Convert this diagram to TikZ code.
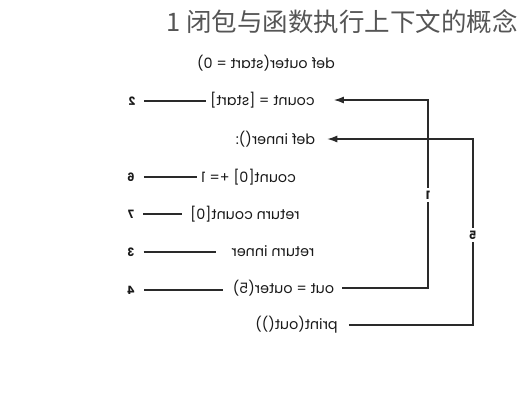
\documentclass[tikz,border=0pt]{standalone}
\usepackage{fontspec}
\setmainfont{Poppins}
\newfontfamily\cjk{Noto Sans CJK SC}
\newfontfamily\codefont{Poppins}
\usetikzlibrary{arrows.meta}
\definecolor{ink}{HTML}{2A2A2A}
\definecolor{txt}{HTML}{1A1A1A}
\newcommand{\mirror}[1]{\scalebox{-1}[1]{#1}}
\tikzset{
  code/.style={inner sep=0pt, text=txt, font=\codefont\fontsize{14.3}{16}\selectfont},
  num/.style={inner sep=0pt, text=txt, font=\codefont\bfseries\fontsize{11.5}{13}\selectfont},
  wire/.style={draw=ink, line width=1.3pt},
  arr/.style={wire, -{Latex[length=10pt,width=7pt]}},
  tag/.style={num, fill=white, inner ysep=3pt, inner xsep=1pt}
}
\begin{document}
\begin{tikzpicture}[x=1pt,y=-1pt]
\useasboundingbox (0,0) rectangle (518,400);
\node[anchor=east, text=ink!80, inner sep=0pt, font=\cjk\fontsize{25.5}{28}\selectfont] (title) at (518,22) {1\hspace{6pt}闭包与函数执行上下文的概念};

\node[code] (outer) at (266,63) {\mirror{def outer(start = 0)}};
\node[code] (count) at (262.5,100) {\mirror{count = [start]}};
\node[code] (inner) at (275.5,139) {\mirror{def inner():}};
\node[code] (inc) at (248.5,177) {\mirror{count[0] += 1}};
\node[code] (retc) at (245,214) {\mirror{return count[0]}};
\node[code] (reti) at (273,251) {\mirror{return inner}};
\node[code] (out) at (283.5,288) {\mirror{out = outer(5)}};
\node[code] (print) at (296.5,325) {\mirror{print(out())}};

\node[num] (n2) at (132,101) {\mirror{2}};
\node[num] (n6) at (131,177) {\mirror{6}};
\node[num] (n7) at (131,214) {\mirror{7}};
\node[num] (n3) at (131,252) {\mirror{3}};
\node[num] (n4) at (131,290) {\mirror{4}};

\draw[wire, shorten <=9pt, shorten >=4pt] (n2.east) -- (count.west |- n2.east);
\draw[wire, shorten <=9pt, shorten >=4pt] (n6.east) -- (inc.west |- n6.east);
\draw[wire, shorten <=9pt, shorten >=8pt] (n7.east) -- (retc.west |- n7.east);
\draw[wire, shorten <=9pt, shorten >=15pt] (n3.east) -- (reti.west |- n3.east);
\draw[wire, shorten <=9pt, shorten >=10pt] (n4.east) -- (out.west |- n4.east);

\coordinate (r1) at (428,0);
\coordinate (r5) at (473,0);
\draw[arr] ([xshift=8pt]out.east) -- (out.east -| r1) -- (count.east -| r1) -- ([xshift=19pt]count.east);
\draw[arr] ([xshift=11pt]print.east) -- (print.east -| r5) -- (inner.east -| r5) -- ([xshift=12pt]inner.east);

\node[tag] (t1) at (428,195) {\mirror{1}};
\node[tag] (t5) at (473,235) {\mirror{5}};
\end{tikzpicture}
\end{document}
